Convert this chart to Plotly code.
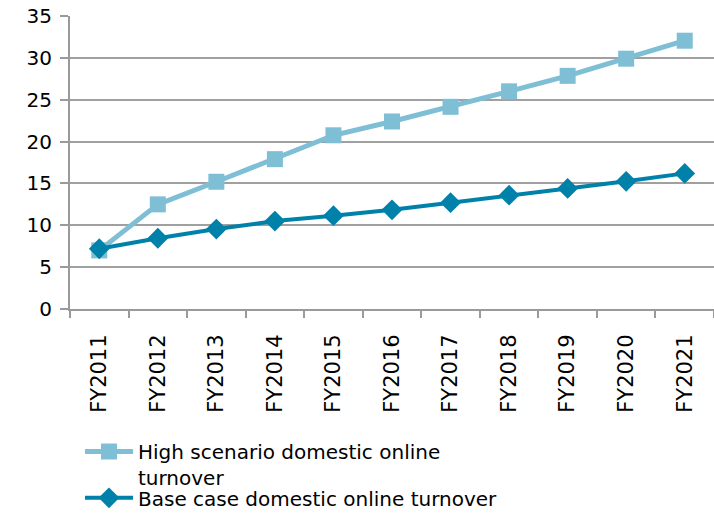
import plotly.graph_objects as go

years = ["FY2011", "FY2012", "FY2013", "FY2014", "FY2015", "FY2016",
         "FY2017", "FY2018", "FY2019", "FY2020", "FY2021"]
high_scenario = [7.0, 12.5, 15.2, 17.9, 20.75, 22.4, 24.15, 26.0, 27.85, 29.9, 32.05]
base_case = [7.2, 8.45, 9.55, 10.5, 11.15, 11.85, 12.7, 13.6, 14.4, 15.25, 16.2]

fig = go.Figure()
fig.add_trace(go.Scatter(
    x=years, y=high_scenario, mode="lines+markers",
    name="High scenario domestic online<br>turnover",
    line=dict(color="#7fbfd6", width=5),
    marker=dict(symbol="square", size=16, color="#7fbfd6"),
    legend="legend",
))
fig.add_trace(go.Scatter(
    x=years, y=base_case, mode="lines+markers",
    name="Base case domestic online turnover",
    line=dict(color="#0081aa", width=4),
    marker=dict(symbol="diamond", size=16, color="#0081aa"),
    legend="legend2",
))

legend_common = dict(xanchor="left", yanchor="top", orientation="v",
                     tracegroupgap=0, itemwidth=48, valign="top",
                     font=dict(size=20), bgcolor="rgba(0,0,0,0)")

fig.update_layout(
    width=714, height=518,
    margin=dict(l=70, r=0, t=16, b=209),
    paper_bgcolor="white", plot_bgcolor="white",
    font=dict(family="DejaVu Sans", size=20, color="black"),
    showlegend=True,
    legend=dict(x=0.0155, y=-0.4198, **legend_common),
    legend2=dict(x=0.0155, y=-0.578, **legend_common),
)
fig.update_xaxes(
    type="category", range=[-0.5, 10.5], showgrid=False, showline=True,
    linecolor="#9a9a9a", linewidth=2,
    ticks="outside", tickson="boundaries", ticklen=7, tickcolor="#9a9a9a", tickwidth=2,
    tickangle=-90, tickfont=dict(size=21), ticklabelstandoff=15, automargin=False,
)
fig.update_yaxes(
    range=[0, 35], dtick=5, showgrid=True, gridcolor="#a0a0a0", gridwidth=2,
    showline=True, linecolor="#9a9a9a", linewidth=2, zeroline=False,
    ticks="outside", ticklen=8, tickcolor="#9a9a9a", tickwidth=2,
    tickfont=dict(size=20), ticklabelstandoff=4, automargin=False,
    ticklabeloverflow="allow",
)

fig.write_html("out.html",
               config={"displayModeBar": False},
               post_script="document.body.style.margin='0';document.body.style.overflow='hidden';")
